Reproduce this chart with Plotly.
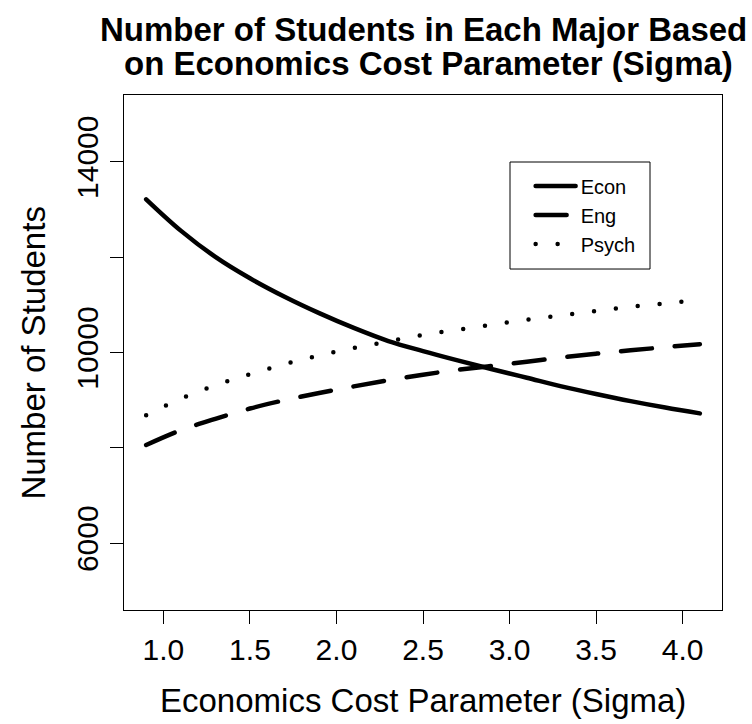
import plotly.graph_objects as go

# Economics cost parameter (sigma) grid
sigma = [0.9, 1.1, 1.3, 1.5, 1.7, 1.9, 2.1, 2.3, 2.5, 2.7, 2.9, 3.1, 3.3, 3.5, 3.7, 3.9, 4.1]

# Number of students choosing each major
econ = [13213, 12556, 12005, 11556, 11169, 10825, 10515, 10240, 10030,
        9835, 9648, 9470, 9290, 9130, 8980, 8845, 8723]
eng = [8060, 8370, 8610, 8825, 9000, 9150, 9290, 9420, 9535,
       9635, 9720, 9805, 9895, 9975, 10045, 10112, 10174]
psych = [8685, 9030, 9310, 9547, 9755, 9938, 10093, 10231, 10368,
         10477, 10585, 10689, 10781, 10869, 10960, 11030, 11100]

series_names = ["Econ", "Eng", "Psych"]

x_ticks = [1.0, 1.5, 2.0, 2.5, 3.0, 3.5, 4.0]
x_ticklabels = ["1.0", "1.5", "2.0", "2.5", "3.0", "3.5", "4.0"]
y_ticks = [6000, 8000, 10000, 12000, 14000]
y_ticklabels = ["6000", "", "10000", "", "14000"]

FONT = "Liberation Sans, Arial, Helvetica, sans-serif"

fig = go.Figure()
dashes = ["solid", "31px,23px", "0px,22px"]
for name, ys, dash in zip(series_names, [econ, eng, psych], dashes):
    fig.add_trace(go.Scatter(
        x=sigma, y=ys, name=name, mode="lines",
        line=dict(color="black", width=4.5, dash=dash, shape="spline", smoothing=1.0),
    ))

axis_common = dict(
    showline=True, linecolor="black", linewidth=1, mirror=True,
    ticks="outside", ticklen=13, tickwidth=1, tickcolor="black",
    showgrid=False, zeroline=False,
    tickfont=dict(family=FONT, size=30, color="black"),
)

fig.update_layout(
    width=752, height=724,
    margin=dict(l=124, r=30, t=95, b=114),
    paper_bgcolor="white", plot_bgcolor="white",
    font=dict(family=FONT, color="black"),
    xaxis=dict(range=[0.772, 4.228], tickvals=x_ticks, ticktext=x_ticklabels, **axis_common),
    yaxis=dict(range=[4600, 15400], tickvals=y_ticks, ticktext=y_ticklabels,
               tickangle=-90, **axis_common),
    showlegend=True,
    legend=dict(
        x=0.68, y=0.767, xanchor="left", yanchor="middle",
        bgcolor="rgba(0,0,0,0)", borderwidth=0,
        font=dict(family=FONT, size=20, color="black"),
        itemwidth=40,
    ),
    shapes=[dict(
        type="rect", xref="paper", yref="paper",
        x0=0.6455, x1=0.8796, y0=0.6621, y1=0.8699,
        line=dict(color="black", width=1), fillcolor="rgba(0,0,0,0)",
    )],
    annotations=[
        dict(text="<b>Number of Students in Each Major Based</b>", xref="paper", yref="paper",
             x=0.5, y=1.128, xanchor="center", yanchor="middle", showarrow=False,
             font=dict(family=FONT, size=33, color="black")),
        dict(text="<b>on Economics Cost Parameter (Sigma)</b>", xref="paper", yref="paper",
             x=0.51, y=1.062, xanchor="center", yanchor="middle", showarrow=False,
             font=dict(family=FONT, size=33, color="black")),
        dict(text="Economics Cost Parameter (Sigma)", xref="paper", yref="paper",
             x=0.5, y=-0.1748, xanchor="center", yanchor="middle", showarrow=False,
             font=dict(family=FONT, size=33, color="black")),
        dict(text="Number of Students", xref="paper", yref="paper",
             x=-0.152, y=0.5, xanchor="center", yanchor="middle", showarrow=False,
             textangle=-90, font=dict(family=FONT, size=33, color="black")),
    ],
)

round_caps = (
    "document.querySelectorAll('path.js-line').forEach(function(p){"
    "p.style.strokeLinecap='round';});"
)
fig.write_html("out.html", post_script=round_caps)
